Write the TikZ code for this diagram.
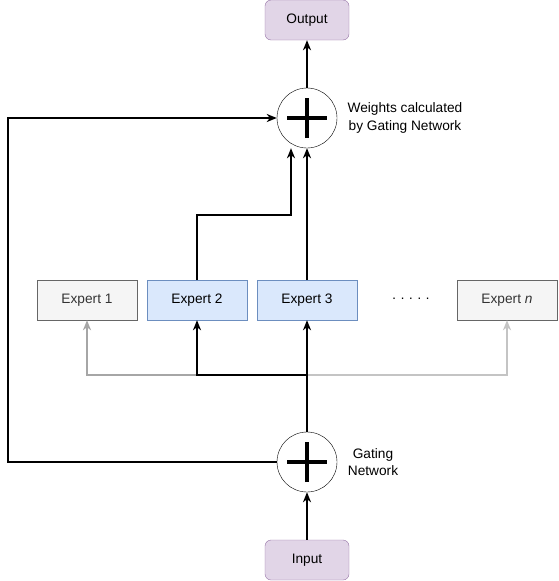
\documentclass[tikz,border=0pt]{standalone}
\usepackage{fontspec}
\setmainfont{Liberation Sans}
\usetikzlibrary{arrows.meta}
\definecolor{iofill}{HTML}{E1D5E7}
\definecolor{ioline}{HTML}{9673A6}
\definecolor{busyfill}{HTML}{DAE8FC}
\definecolor{busyline}{HTML}{6C8EBF}
\definecolor{idlefill}{HTML}{F5F5F5}
\definecolor{idleline}{HTML}{666666}
\definecolor{idletext}{HTML}{333333}
\definecolor{wireA}{HTML}{A6A6A6}
\definecolor{wireB}{HTML}{C4C4C4}
\tikzset{
  every node/.style={font=\fontsize{13.7}{17.5}\selectfont},
  io/.style={draw=ioline,fill=iofill,rounded corners=6pt,minimum width=84pt,minimum height=40pt},
  busy/.style={draw=busyline,fill=busyfill,minimum width=100pt,minimum height=40pt},
  idle/.style={draw=idleline,fill=idlefill,text=idletext,minimum width=100pt,minimum height=40pt},
  sum/.style={draw,circle,minimum size=60pt,inner sep=0pt,
    path picture={\draw[line width=4pt]
      ([xshift=-20pt]path picture bounding box.center) -- ([xshift=20pt]path picture bounding box.center)
      ([yshift=-20pt]path picture bounding box.center) -- ([yshift=20pt]path picture bounding box.center);}},
  note/.style={align=center},
  wire/.style={line width=1.6pt,-{Stealth[length=10pt,width=8pt,inset=3pt]}},
}
\begin{document}
\begin{tikzpicture}[x=1pt,y=-1pt]
  \useasboundingbox (0,0) rectangle (559,581);
  \draw
    (307,20) node[io] (out){Output}
    (307,118) node[sum] (top){}
    (405,118) node[note] (weights){Weights calculated\\by Gating Network}
    (373,462) node[note] (gate){Gating\\Network}
    (87,300) node[idle] (e1){Expert 1}
    (197,300) node[busy] (e2){Expert 2}
    (307,300) node[busy] (e3){Expert 3}
    (411,300) node (dots){· · · · ·}
    (507,300) node[idle] (en){Expert \textit{n}}
    (307,462) node[sum] (bot){}
    (307,560) node[io] (in){Input};
  \coordinate (loop) at (8,118);
  \coordinate (bend) at (291,215);
  \coordinate (bus) at (307,375);
  % fan-out to the experts
  \begin{scope}[wire]
    \draw[wireA] (e2.south |- bus) -| (e1.south);
    \draw[wireB] (bus) -| (en.south);
    \draw (bus) -| (e2.south);
    \draw (bot) to (e3);
  \end{scope}
  % weighted sum
  \begin{scope}[wire]
    \draw (in) to (bot);
    \draw (bot.west) -| (loop) -- (top.west);
    \draw (e2.north) |- (bend) -- ([xshift=-16pt]top.south);
    \draw (e3) to (top);
    \draw (top) to (out);
  \end{scope}
\end{tikzpicture}
\end{document}
